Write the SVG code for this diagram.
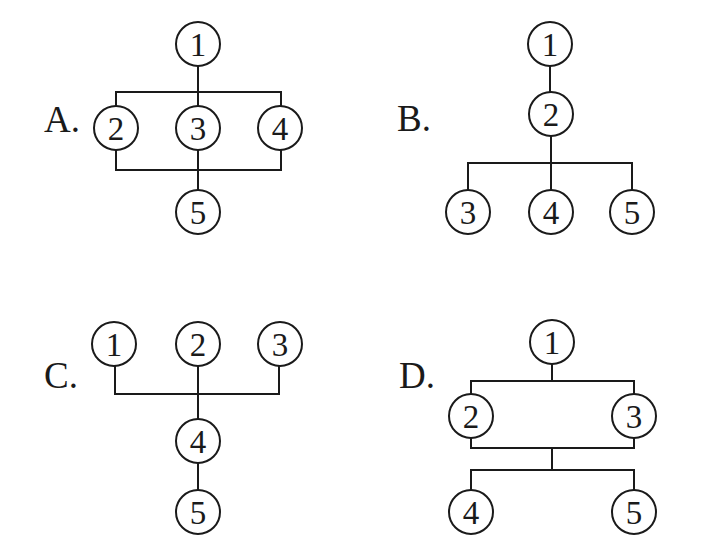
<svg xmlns="http://www.w3.org/2000/svg" width="717" height="558" viewBox="0 0 717 558">
<style>
.n circle{fill:#fff;stroke:#1a1a1a;stroke-width:2}
.n text,.lbl{font-family:"Liberation Serif","Times New Roman",serif;fill:#1a1a1a}
.n text{font-size:33px;text-anchor:middle}
.lbl{font-size:37px}
#connectors path{fill:none;stroke:#1a1a1a;stroke-width:2}
</style>
<rect width="717" height="558" fill="#fff"/>
<g id="connectors">
<!-- A -->
<path d="M198,66V106M116,106V92H281V106M116,150V170H281V150M198,150V190"/>
<!-- B -->
<path d="M550,66V92M551,136V163M468,190V163H632V190M551,163V190"/>
<!-- C -->
<path d="M115,366V394H279V366M198,366V419M198,462V490"/>
<!-- D -->
<path d="M552,364V381M471,394V381H634V394M471,438V448H634V438M552,448V470M471,490V470H634V490"/>
</g>
<text class="lbl" x="44" y="132">A.</text>
<text class="lbl" x="397" y="131">B.</text>
<text class="lbl" x="44" y="388">C.</text>
<text class="lbl" x="399" y="388">D.</text>
<g id="A1" class="n"><circle cx="198" cy="44" r="22"/><text x="198" y="56">1</text></g>
<g id="A2" class="n"><circle cx="116" cy="128" r="22"/><text x="116" y="140">2</text></g>
<g id="A3" class="n"><circle cx="198" cy="128" r="22"/><text x="198" y="140">3</text></g>
<g id="A4" class="n"><circle cx="280" cy="128" r="22"/><text x="280" y="140">4</text></g>
<g id="A5" class="n"><circle cx="198" cy="212" r="22"/><text x="198" y="224">5</text></g>
<g id="B1" class="n"><circle cx="550" cy="44" r="22"/><text x="550" y="56">1</text></g>
<g id="B2" class="n"><circle cx="551" cy="114" r="22"/><text x="551" y="126">2</text></g>
<g id="B3" class="n"><circle cx="468" cy="212" r="22"/><text x="468" y="224">3</text></g>
<g id="B4" class="n"><circle cx="551" cy="212" r="22"/><text x="551" y="224">4</text></g>
<g id="B5" class="n"><circle cx="632" cy="212" r="22"/><text x="632" y="224">5</text></g>
<g id="C1" class="n"><circle cx="114" cy="344" r="22"/><text x="114" y="356">1</text></g>
<g id="C2" class="n"><circle cx="198" cy="344" r="22"/><text x="198" y="356">2</text></g>
<g id="C3" class="n"><circle cx="280" cy="344" r="22"/><text x="280" y="356">3</text></g>
<g id="C4" class="n"><circle cx="198" cy="441" r="22"/><text x="198" y="453">4</text></g>
<g id="C5" class="n"><circle cx="198" cy="512" r="22"/><text x="198" y="524">5</text></g>
<g id="D1" class="n"><circle cx="552" cy="342" r="22"/><text x="552" y="354">1</text></g>
<g id="D2" class="n"><circle cx="471" cy="416" r="22"/><text x="471" y="428">2</text></g>
<g id="D3" class="n"><circle cx="634" cy="416" r="22"/><text x="634" y="428">3</text></g>
<g id="D4" class="n"><circle cx="471" cy="512" r="22"/><text x="471" y="524">4</text></g>
<g id="D5" class="n"><circle cx="634" cy="512" r="22"/><text x="634" y="524">5</text></g>
</svg>
